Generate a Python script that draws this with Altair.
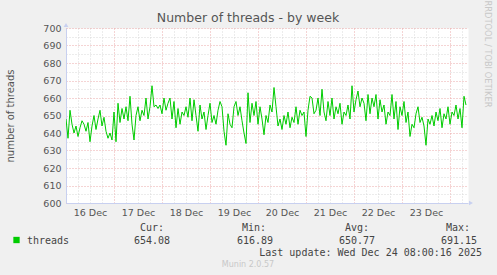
import altair as alt
import pandas as pd

# hourly averages, Dec 16 00:00 -> Dec 24 08:00
threads = [
    648, 637, 653, 645, 640, 644, 638, 643, 647, 645, 641, 646, 635, 644, 650, 642, 648, 653, 644, 649, 641, 637, 640, 636,
    652, 635, 657, 646, 654, 648, 655, 647, 661, 645, 636, 650, 655, 647, 653, 650, 660, 648, 655, 667, 655, 656, 654, 656,
    651, 660, 653, 657, 660, 648, 658, 643, 654, 645, 652, 650, 655, 649, 660, 647, 659, 650, 641, 656, 648, 652, 642, 650,
    657, 646, 650, 645, 653, 658, 655, 641, 633, 651, 645, 643, 655, 658, 650, 655, 647, 640, 634, 663, 646, 657, 650, 658,
    645, 655, 648, 639, 650, 646, 656, 652, 666, 655, 644, 648, 642, 650, 645, 652, 643, 649, 646, 655, 645, 653, 650, 652,
    638, 653, 661, 660, 651, 653, 660, 650, 665, 652, 647, 658, 650, 660, 648, 655, 651, 657, 645, 652, 650, 656, 648, 667,
    652, 659, 664, 655, 660, 657, 647, 662, 651, 660, 655, 662, 648, 659, 652, 656, 645, 652, 650, 662, 648, 658, 642, 655,
    650, 658, 646, 652, 638, 645, 643, 651, 655, 646, 649, 644, 633, 648, 645, 650, 644, 652, 647, 654, 643, 651, 648, 655,
    645, 652, 650, 656, 648, 654, 643, 661, 656,
]
hours = list(range(len(threads)))
day_labels = ["16 Dec", "17 Dec", "18 Dec", "19 Dec", "20 Dec", "21 Dec", "22 Dec", "23 Dec"]
x_ticks = list(range(0, 202, 6))
y_ticks = list(range(600, 701, 5))
legend_headers = ["Cur:", "Min:", "Avg:", "Max:"]
legend_values = ["654.08", "616.89", "650.77", "691.15"]

df = pd.DataFrame({"hour": hours, "threads": threads})

RED = "#eba8a8"
GRAY = "#d8d8d8"
AXIS = "#c8d0f0"
TXT = "#555555"

labels_js = "[" + ",".join("'%s'" % d for d in day_labels) + "]"

x_axis = alt.Axis(
    values=x_ticks,
    labelExpr="datum.value % 24 == 12 ? " + labels_js + "[floor(datum.value / 24)] : ''",
    grid=True,
    gridDash=[1, 2],
    gridColor={"condition": {"test": "datum.value % 24 == 0", "value": RED}, "value": GRAY},
    ticks=False,
    tickSize=0,
    domainColor=AXIS,
    labelPadding=4,
    labelFont="DejaVu Sans",
    labelFontSize=9.5,
    labelColor=TXT,
    labelAngle=0,
    labelOverlap=False,
    labelFlush=False,
    title=None,
)
y_axis = alt.Axis(
    values=y_ticks,
    labelExpr="datum.value % 10 == 0 ? datum.value : ''",
    grid=True,
    gridDash=[1, 2],
    gridColor={"condition": {"test": "datum.value % 10 == 0", "value": RED}, "value": GRAY},
    ticks=False,
    tickSize=0,
    domainColor=AXIS,
    labelPadding=5,
    labelFont="DejaVu Sans",
    labelFontSize=9.5,
    labelColor=TXT,
    labelOverlap=False,
    labelFlush=False,
    title="number of threads",
    titleFont="DejaVu Sans",
    titleFontSize=10,
    titleFontWeight="normal",
    titleColor=TXT,
    titleAngle=270,
    titleX=-56,
    titleY=87.5,
    titleAlign="center",
    titleBaseline="middle",
)

line = alt.Chart(df).mark_line(color="#00cc00", strokeWidth=1, clip=True).encode(
    x=alt.X("hour:Q", scale=alt.Scale(domain=[0, 201], nice=False, zero=False), axis=x_axis),
    y=alt.Y("threads:Q", scale=alt.Scale(domain=[600, 700], nice=False, zero=False), axis=y_axis),
)


def txt(s, x, y, size=10, font="DejaVu Sans Mono", color=TXT, align="left", angle=0, baseline="alphabetic"):
    return alt.Chart(pd.DataFrame({"s": [s]})).mark_text(
        align=align, baseline=baseline, font=font, fontSize=size, color=color, angle=angle
    ).encode(text="s:N", x=alt.value(x), y=alt.value(y))


def marker(shape, x, y, color, size):
    return alt.Chart(pd.DataFrame({"s": [0]})).mark_point(
        shape=shape, filled=True, color=color, size=size, opacity=1
    ).encode(x=alt.value(x), y=alt.value(y))


layers = [line]
layers.append(txt("Number of threads - by week", 182, -6, size=12.5, font="DejaVu Sans", align="center"))
layers.append(txt("RRDTOOL / TOBI OETIKER", 421, 26, size=8.3, font="DejaVu Sans", color="#c8c8c8",
                  align="center", angle=90, baseline="middle"))
layers.append(marker("triangle-up", 0, -3, AXIS, 22))
layers.append(marker("triangle-right", 405, 175, AXIS, 22))
layers.append(marker("square", -49.5, 212, "#00cc00", 40))
layers.append(txt("threads", -39, 216, color="#444444"))
head_x = [86, 188, 291, 392]
val_x = [86, 189, 291, 393]
for h, v, hx, vx in zip(legend_headers, legend_values, head_x, val_x):
    layers.append(txt(h, hx, 203, align="center", color="#444444"))
    layers.append(txt(v, vx, 216, align="center", color="#444444"))
layers.append(txt("Last update: Wed Dec 24 08:00:16 2025", 416, 228, align="right", color="#444444"))
layers.append(txt("Munin 2.0.57", 182, 239, size=8, font="DejaVu Sans", color="#c8c8c8", align="center"))

chart = alt.layer(*layers).properties(
    width=402,
    height=175,
    padding={"left": 66, "top": 28, "right": 29, "bottom": 72},
    autosize=alt.AutoSizeParams(type="none"),
    background="#f0f0f0",
).configure_view(fill="white", stroke="transparent")

chart.save("out.html", embed_options={"renderer": "svg", "actions": False})
